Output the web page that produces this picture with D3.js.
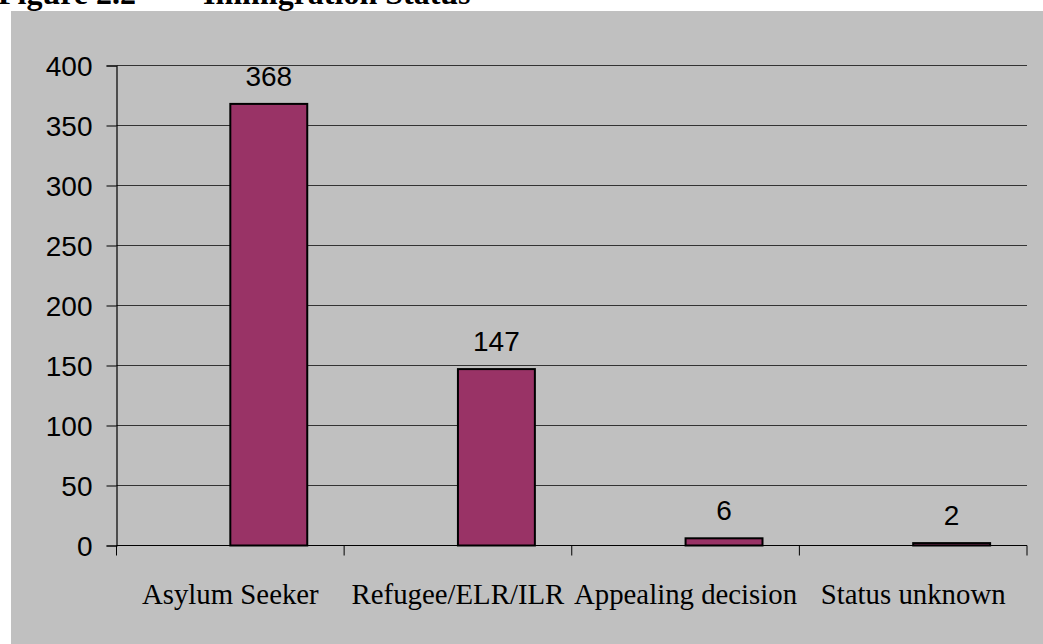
<!DOCTYPE html>
<html>
<head>
<meta charset="utf-8">
<script src="https://cdn.jsdelivr.net/npm/d3@7"></script>
<style>
  html, body { margin: 0; padding: 0; background: #ffffff; }
  svg { display: block; }
</style>
</head>
<body>
<svg id="chart" width="1043" height="644"></svg>
<script>
// Immigration status of respondents
const categories = ["Asylum Seeker", "Refugee/ELR/ILR", "Appealing decision", "Status unknown"];
const counts = [368, 147, 6, 2];
const yTicks = [0, 50, 100, 150, 200, 250, 300, 350, 400];

const W = 1043, H = 644;
const plot = { left: 116.5, right: 1027, top: 65.5, bottom: 545.5 };

const svg = d3.select("#chart");

// chart frame background
svg.append("rect")
  .attr("x", 11).attr("y", 11)
  .attr("width", W - 11).attr("height", H - 11)
  .attr("fill", "#c0c0c0");

// heading above the frame
svg.append("text")
  .attr("x", -2).attr("y", 4)
  .attr("font-family", "'Liberation Serif', 'Times New Roman', serif")
  .attr("font-size", 32).attr("font-weight", "bold")
  .attr("fill", "#000")
  .text("Figure 2.2");
svg.append("text")
  .attr("x", 203).attr("y", 4)
  .attr("font-family", "'Liberation Serif', 'Times New Roman', serif")
  .attr("font-size", 32).attr("font-weight", "bold")
  .attr("fill", "#000")
  .text("Immigration Status");

const x = d3.scaleBand()
  .domain(categories)
  .range([plot.left, plot.right])
  .padding(0);

const y = d3.scaleLinear()
  .domain([0, 400])
  .range([plot.bottom, plot.top]);

// horizontal gridlines
svg.append("g")
  .selectAll("line")
  .data(yTicks.filter(t => t > 0))
  .join("line")
  .attr("x1", plot.left).attr("x2", plot.right)
  .attr("y1", d => y(d)).attr("y2", d => y(d))
  .attr("stroke", "#333333").attr("stroke-width", 1);

// y axis
const yAxis = d3.axisLeft(y)
  .tickValues(yTicks)
  .tickSize(10)
  .tickPadding(14)
  .tickFormat(d3.format("d"));
const gy = svg.append("g")
  .attr("transform", `translate(${plot.left},0)`)
  .call(yAxis);
gy.select(".domain").attr("stroke", "#000").attr("stroke-width", 1.2);
gy.selectAll(".tick line").attr("stroke", "#000").attr("stroke-width", 1);
gy.selectAll(".tick text")
  .attr("font-family", "'Liberation Sans', Arial, sans-serif")
  .attr("font-size", 28)
  .attr("fill", "#000")
  .attr("dy", "0.36em");

// bars sit in the right half of each category's bar group
const barW = x.bandwidth() * 0.338;
const barX = c => x(c) + x.bandwidth() / 2;

svg.append("g")
  .selectAll("rect")
  .data(categories.map((c, i) => ({ c, v: counts[i] })))
  .join("rect")
  .attr("x", d => barX(d.c))
  .attr("y", d => y(d.v))
  .attr("width", barW)
  .attr("height", d => y(0) - y(d.v))
  .attr("fill", "#993366")
  .attr("stroke", "#000")
  .attr("stroke-width", 2);

// value labels
svg.append("g")
  .selectAll("text")
  .data(categories.map((c, i) => ({ c, v: counts[i] })))
  .join("text")
  .attr("x", d => barX(d.c) + barW / 2)
  .attr("y", d => y(d.v) - 18)
  .attr("text-anchor", "middle")
  .attr("font-family", "'Liberation Sans', Arial, sans-serif")
  .attr("font-size", 28)
  .attr("fill", "#000")
  .text(d => d.v);

// x axis with ticks at category boundaries
const gx = svg.append("g")
  .attr("transform", `translate(0,${plot.bottom})`);
gx.append("line")
  .attr("x1", plot.left).attr("x2", plot.right)
  .attr("stroke", "#000").attr("stroke-width", 1.2);
const bounds = categories.map(c => x(c)).concat([plot.right]);
gx.selectAll("line.tick")
  .data(bounds)
  .join("line")
  .attr("class", "tick")
  .attr("x1", d => d).attr("x2", d => d)
  .attr("y1", 0).attr("y2", 10)
  .attr("stroke", "#000").attr("stroke-width", 1);
gx.selectAll("text")
  .data(categories)
  .join("text")
  .attr("x", c => x(c) + x.bandwidth() / 2)
  .attr("y", 58)
  .attr("text-anchor", "middle")
  .attr("font-family", "'Liberation Serif', 'Times New Roman', serif")
  .attr("font-size", 28.8)
  .attr("fill", "#000")
  .text(c => c);
</script>
</body>
</html>
